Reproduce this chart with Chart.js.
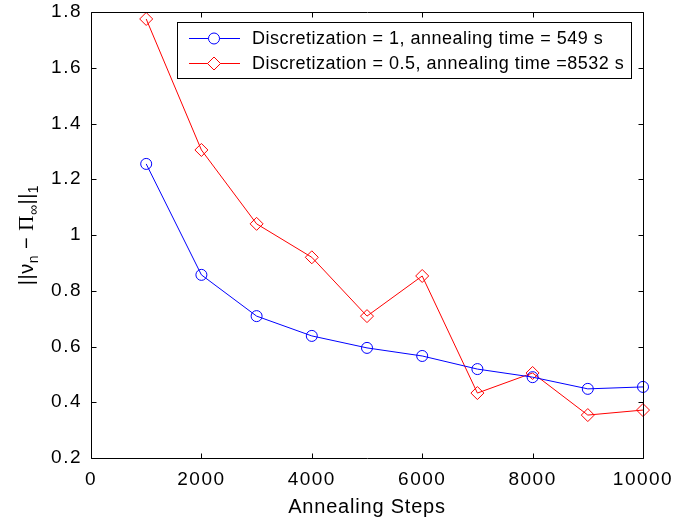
<!DOCTYPE html>
<html>
<head>
<meta charset="utf-8">
<script src="https://cdn.jsdelivr.net/npm/chart.js@4"></script>
<style>
  html, body { margin: 0; padding: 0; background: #fff; }
  #wrap { width: 690px; height: 521px; }
</style>
</head>
<body>
<div id="wrap"><canvas id="annealChart"></canvas></div>
<script>
// annealing steps on x, L1 distance on y
const steps = [1000, 2000, 3000, 4000, 5000, 6000, 7000, 8000, 9000, 10000];
const discOne = [1.255, 0.857, 0.709, 0.638, 0.595, 0.566, 0.519, 0.49, 0.448, 0.455];
const discHalf = [1.775, 1.305, 1.04, 0.92, 0.709, 0.853, 0.433, 0.505, 0.354, 0.372];
const xTicks = [0, 2000, 4000, 6000, 8000, 10000];
const yTicks = [0.2, 0.4, 0.6, 0.8, 1, 1.2, 1.4, 1.6, 1.8];
const seriesNames = [
  "Discretization = 1, annealing time = 549 s",
  "Discretization = 0.5, annealing time =8532 s",
];

const SANS = "'Liberation Sans', Arial, Helvetica, sans-serif";
const SERIF = "'Liberation Serif', 'Times New Roman', serif";

function toPoints(vals) {
  return steps.map((s, i) => ({ x: s, y: vals[i] }));
}

// box around the plot with inward ticks on every side
const framePlugin = {
  id: "frame",
  beforeDraw(chart) {
    chart.ctx.letterSpacing = "1.5px";
  },
  afterDraw(chart) {
    const ctx = chart.ctx;
    const a = chart.chartArea;
    const xs = chart.scales.x, ys = chart.scales.y;
    const L = Math.round(a.left) + 0.5, R = Math.round(a.right) + 0.5;
    const T = Math.round(a.top) + 0.5, B = Math.round(a.bottom) + 0.5;
    const tick = 5;
    ctx.save();
    ctx.letterSpacing = "0px";
    ctx.strokeStyle = "#000";
    ctx.lineWidth = 1;
    ctx.beginPath();
    ctx.rect(L, T, R - L, B - T);
    xTicks.forEach((v) => {
      const px = Math.round(xs.getPixelForValue(v)) + 0.5;
      ctx.moveTo(px, B); ctx.lineTo(px, B - tick);
      ctx.moveTo(px, T); ctx.lineTo(px, T + tick);
    });
    yTicks.forEach((v) => {
      const py = Math.round(ys.getPixelForValue(v)) + 0.5;
      ctx.moveTo(L, py); ctx.lineTo(L + tick, py);
      ctx.moveTo(R, py); ctx.lineTo(R - tick, py);
    });
    ctx.stroke();
    ctx.restore();
  },
};

// axis titles, the y one with subscripts
const titlesPlugin = {
  id: "titles",
  afterDraw(chart) {
    const ctx = chart.ctx;
    const a = chart.chartArea;
    ctx.save();
    ctx.fillStyle = "#000";
    ctx.textBaseline = "alphabetic";

    ctx.letterSpacing = "0.8px";
    ctx.font = "20px " + SANS;
    ctx.textAlign = "center";
    ctx.fillText("Annealing Steps", (a.left + a.right) / 2, 513);

    const parts = [
      { t: "||\u03bd", f: "20px " + SANS, dy: 0 },
      { t: "n", f: "14px " + SANS, dy: 5 },
      { t: " \u2212 ", f: "20px " + SANS, dy: 0 },
      { t: "\u03a0", f: "21px " + SERIF, dy: 0 },
      { t: "\u221e", f: "14px " + SANS, dy: 5 },
      { t: "||", f: "20px " + SANS, dy: 0 },
      { t: "1", f: "14px " + SANS, dy: 5 },
    ];
    ctx.letterSpacing = "0.5px";
    ctx.textAlign = "left";
    let total = 0;
    parts.forEach((p) => {
      ctx.font = p.f;
      p.w = ctx.measureText(p.t).width;
      total += p.w;
    });
    ctx.translate(33, (a.top + a.bottom) / 2);
    ctx.rotate(-Math.PI / 2);
    let x = -total / 2;
    parts.forEach((p) => {
      ctx.font = p.f;
      ctx.fillText(p.t, x, p.dy);
      x += p.w;
    });
    ctx.restore();
  },
};

// boxed legend in the upper right of the plot
const legendBoxPlugin = {
  id: "legendBox",
  afterDraw(chart) {
    const ctx = chart.ctx;
    const box = { x: 177.5, y: 22.5, w: 454, h: 56 };
    ctx.save();
    ctx.fillStyle = "#fff";
    ctx.strokeStyle = "#000";
    ctx.lineWidth = 1;
    ctx.fillRect(box.x, box.y, box.w, box.h);
    ctx.strokeRect(box.x, box.y, box.w, box.h);
    const rows = [38, 63];
    chart.data.datasets.forEach((ds, i) => {
      const y = rows[i];
      ctx.strokeStyle = ds.borderColor;
      ctx.lineWidth = 1;
      ctx.beginPath();
      ctx.moveTo(189, y + 0.5);
      ctx.lineTo(240, y + 0.5);
      ctx.stroke();
      ctx.beginPath();
      if (ds.pointStyle === "circle") {
        ctx.arc(214, y + 0.5, ds.pointRadius, 0, Math.PI * 2);
      } else {
        const r = ds.pointRadius;
        ctx.moveTo(214 - r, y + 0.5);
        ctx.lineTo(214, y + 0.5 - r);
        ctx.lineTo(214 + r, y + 0.5);
        ctx.lineTo(214, y + 0.5 + r);
        ctx.closePath();
      }
      ctx.fillStyle = "#fff";
      ctx.fill();
      ctx.stroke();
      ctx.fillStyle = "#000";
      ctx.letterSpacing = "0.5px";
      ctx.font = "18px " + SANS;
      ctx.textAlign = "left";
      ctx.textBaseline = "middle";
      ctx.fillText(ds.label, 252, y + 1);
    });
    ctx.restore();
  },
};

const data = {
  datasets: [
    {
      label: seriesNames[0],
      data: toPoints(discOne),
      borderColor: "#0000ff",
      backgroundColor: "#0000ff",
      borderWidth: 1,
      pointStyle: "circle",
      pointRadius: 5.5,
      pointBorderWidth: 1,
      pointBackgroundColor: "rgba(255,255,255,0)",
      pointBorderColor: "#0000ff",
      clip: false,
    },
    {
      label: seriesNames[1],
      data: toPoints(discHalf),
      borderColor: "#ff0000",
      backgroundColor: "#ff0000",
      borderWidth: 1,
      pointStyle: "rectRot",
      pointRadius: 6.5,
      pointBorderWidth: 1,
      pointBackgroundColor: "rgba(255,255,255,0)",
      pointBorderColor: "#ff0000",
      clip: false,
    },
  ],
};

const config = {
  type: "line",
  data: data,
  options: {
    responsive: true,
    maintainAspectRatio: false,
    animation: false,
    events: [],
    layout: { padding: { top: 12, right: 47, left: 0, bottom: 0 } },
    plugins: {
      legend: { display: false },
      tooltip: { enabled: false },
    },
    scales: {
      x: {
        type: "linear",
        min: 0,
        max: 10000,
        afterBuildTicks: (scale) => {
          scale.ticks = xTicks.map((v) => ({ value: v }));
        },
        afterFit: (scale) => { scale.height = 63; },
        grid: { display: false, drawTicks: false },
        border: { display: false },
        ticks: {
          color: "#000",
          font: { family: SANS, size: 19 },
          padding: 10,
          maxRotation: 0,
          autoSkip: false,
          callback: (v) => String(v),
        },
      },
      y: {
        type: "linear",
        min: 0.2,
        max: 1.8,
        afterBuildTicks: (scale) => {
          scale.ticks = yTicks.map((v) => ({ value: v }));
        },
        afterFit: (scale) => {
          scale.width = 91;
          scale.paddingTop = 0;
          scale.paddingBottom = 0;
        },
        grid: { display: false, drawTicks: false },
        border: { display: false },
        ticks: {
          color: "#000",
          font: { family: SANS, size: 19, lineHeight: 0.6 },
          padding: 9,
          autoSkip: false,
          callback: (v) => String(+v.toFixed(1)),
        },
      },
    },
  },
  plugins: [framePlugin, titlesPlugin, legendBoxPlugin],
};

const ctx = document.getElementById("annealChart").getContext("2d");
let chart = new Chart(ctx, config);
</script>
</body>
</html>
